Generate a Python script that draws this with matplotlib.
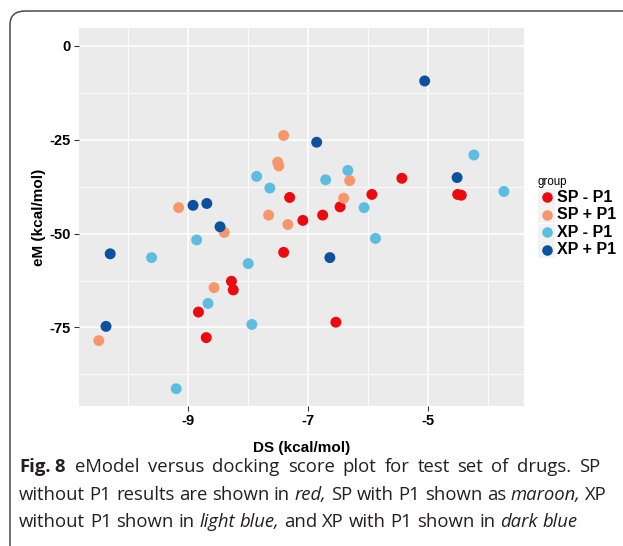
import matplotlib
matplotlib.use("Agg")
import matplotlib.pyplot as plt
from matplotlib.patches import FancyBboxPatch, Rectangle
from matplotlib.lines import Line2D

# valores (DS, eM)
grupos = ["SP - P1", "SP + P1", "XP - P1", "XP + P1"]
cores = ["#EC0A0F", "#F7966B", "#5CBDDF", "#0B51A0"]

sp_menos_x = [-7.30, -7.08, -7.40, -8.27, -8.24, -8.82, -8.69, -5.43, -4.50, -4.44, -5.93, -6.46, -6.75, -6.53]
sp_menos_y = [-40.4, -46.5, -55.0, -62.7, -65.0, -70.9, -77.7, -35.3, -39.6, -39.8, -39.6, -42.9, -45.1, -73.6]

sp_mais_x = [-7.40, -7.50, -7.48, -9.15, -7.65, -7.33, -8.39, -8.56, -10.48, -6.30, -6.40]
sp_mais_y = [-23.9, -31.0, -32.0, -43.1, -45.1, -47.6, -49.7, -64.4, -78.5, -35.9, -40.6]

xp_menos_x = [-7.85, -7.63, -8.85, -9.60, -7.99, -8.66, -7.93, -9.19, -4.23, -6.33, -6.70, -3.73, -6.06, -5.87]
xp_menos_y = [-34.8, -37.9, -51.7, -56.4, -58.0, -68.6, -74.2, -91.3, -29.1, -33.2, -35.7, -38.8, -43.1, -51.3]

xp_mais_x = [-8.91, -8.68, -8.46, -10.29, -10.36, -5.05, -6.85, -4.51, -6.63]
xp_mais_y = [-42.5, -42.0, -48.2, -55.4, -74.7, -9.4, -25.7, -35.1, -56.4]

xs = [sp_menos_x, sp_mais_x, xp_menos_x, xp_mais_x]
ys = [sp_menos_y, sp_mais_y, xp_menos_y, xp_mais_y]

x_ticks = [-9, -7, -5]
x_minor = [-10, -8, -6, -4]
y_ticks = [0, -25, -50, -75]
y_minor = [-12.5, -37.5, -62.5, -87.5]

W, H = 623, 546
fig = plt.figure(figsize=(W / 100, H / 100), dpi=100)
fig.patch.set_facecolor("white")

def fx(x):
    return x / W

def fy(y):
    return 1 - y / H

# painel estilo ggplot
ax = fig.add_axes([fx(79), fy(406), fx(524) - fx(79), fy(28) - fy(406)])
ax.set_facecolor("#EBEBEB")
for s in ax.spines.values():
    s.set_visible(False)

for v in x_minor:
    ax.axvline(v, color="white", lw=0.6, zorder=0)
for v in y_minor:
    ax.axhline(v, color="white", lw=0.6, zorder=0)
for v in x_ticks:
    ax.axvline(v, color="white", lw=1.2, zorder=0)
for v in y_ticks:
    ax.axhline(v, color="white", lw=1.2, zorder=0)

for gx, gy, c in zip(xs, ys, cores):
    ax.scatter(gx, gy, s=62, color=c, edgecolors="none", zorder=3)

ax.set_xlim(-10.81, -3.395)
ax.set_ylim(-95.9, 4.7)
ax.set_xticks(x_ticks)
ax.set_yticks(y_ticks)
ax.set_xticklabels([str(t) for t in x_ticks])
ax.set_yticklabels([str(t) for t in y_ticks])
ax.tick_params(length=3.5, width=0.8, color="#333333", pad=2.5)
for lab in ax.get_xticklabels() + ax.get_yticklabels():
    lab.set_fontfamily("Liberation Sans")
    lab.set_fontweight("bold")
    lab.set_fontsize(10.5)
    lab.set_color("black")

ax.set_xlabel("DS (kcal/mol)", fontfamily="Liberation Sans", fontweight="bold",
              fontsize=11, labelpad=9)
ax.set_ylabel("eM (kcal/mol)", fontfamily="Liberation Sans", fontweight="bold",
              fontsize=11, labelpad=2.5)

# legenda montada a mao (chaves com fundo cinza como no ggplot)
fig.text(fx(537), fy(182), "group", fontfamily="Liberation Sans", fontsize=8.3,
         va="center", ha="left")
for i, (g, c) in enumerate(zip(grupos, cores)):
    yc = 197 + i * 17.6
    fig.add_artist(Rectangle((fx(538), fy(yc + 8.5)), fx(17), 17 / H,
                             transform=fig.transFigure, facecolor="#F2F2F2",
                             edgecolor="none"))
    fig.add_artist(Line2D([fx(546.5)], [fy(yc)], marker="o", markersize=7.6,
                          color=c, markeredgewidth=0, transform=fig.transFigure))
    fig.text(fx(557), fy(yc), g, fontfamily="Liberation Sans", fontweight="bold",
             fontsize=11.5, va="center", ha="left")

# moldura arredondada da figura (cortada a direita e embaixo)
fig.add_artist(FancyBboxPatch((fx(10), fy(570)), fx(660) - fx(10), fy(11) - fy(570),
                              boxstyle="round,pad=0,rounding_size=0.025",
                              transform=fig.transFigure, facecolor="none",
                              edgecolor="#4A4A4A", lw=1.1))

# legenda da figura, texto justificado como na revista
renderer = fig.canvas.get_renderer()
fonte_cap = "Open Sans"
tam_cap = 13.3
N, B, I = ("normal", "normal"), ("bold", "normal"), ("normal", "italic")

def largura(txt, estilo):
    t = fig.text(0, 0, txt, fontfamily=fonte_cap, fontsize=tam_cap,
                 fontweight=estilo[0], fontstyle=estilo[1])
    w = t.get_window_extent(renderer=renderer).width
    t.remove()
    return w

def linha(y, palavras, x0=19, x1=None, gap_fixo=None):
    # palavras: lista de (palavra, estilo); gap_fixo: {indice: px}
    gap_fixo = gap_fixo or {}
    larg = [largura(p, e) for p, e in palavras]
    esp = largura("a a", N) - largura("aa", N)
    n_var = len(palavras) - 1 - len(gap_fixo)
    if x1 is not None:
        livre = (x1 - x0) - sum(larg) - sum(gap_fixo.values())
        esp = max(esp * 0.9, livre / n_var)
    x = x0
    for k, (p, e) in enumerate(palavras):
        fig.text(fx(x), fy(y), p, fontfamily=fonte_cap, fontsize=tam_cap,
                 fontweight=e[0], fontstyle=e[1], color="#231F20",
                 va="baseline", ha="left")
        x += larg[k] + gap_fixo.get(k, esp)

def palavras_de(texto, estilo):
    return [(w, estilo) for w in texto.split()]

l1 = [("Fig.", B), ("8", B)] + palavras_de(
    "eModel versus docking score plot for test set of drugs. SP", N)
linha(472, l1, x1=600, gap_fixo={0: 3.5, 1: 11})

l2 = (palavras_de("without P1 results are shown in", N)
      + [("red,", I)]
      + palavras_de("SP with P1 shown as", N)
      + [("maroon,", I), ("XP", N)])
linha(500, l2, x1=607)

l3 = (palavras_de("without P1 shown in", N)
      + [("light", I), ("blue,", I)]
      + palavras_de("and XP with P1 shown in", N)
      + [("dark", I), ("blue", I)])
linha(527, l3)

fig.savefig("out.png", dpi=100)
